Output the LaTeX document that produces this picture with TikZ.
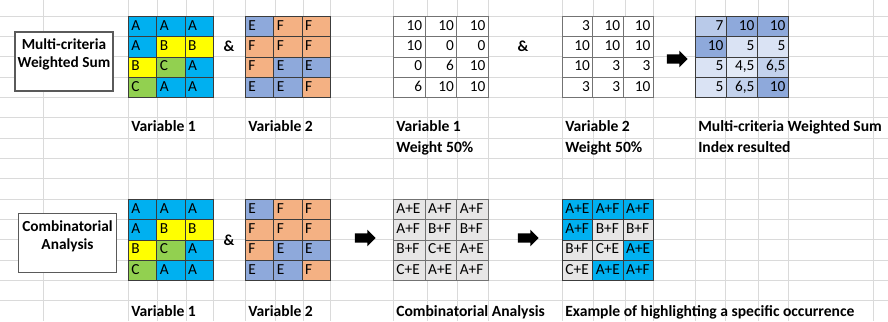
\documentclass[tikz,border=0pt]{standalone}
\usepackage{fontspec}
\setmainfont{Carlito}
\usetikzlibrary{shapes.arrows}

\definecolor{sheetgrid}{RGB}{218,218,218}
\definecolor{celledge}{RGB}{60,60,60}
\definecolor{numedge}{RGB}{115,115,115}
\definecolor{boxedge}{RGB}{90,90,90}
\definecolor{colA}{RGB}{0,176,240}
\definecolor{colB}{RGB}{255,255,0}
\definecolor{colC}{RGB}{146,208,80}
\definecolor{colE}{RGB}{142,169,219}
\definecolor{colF}{RGB}{244,177,131}
\definecolor{combhi}{RGB}{0,176,240}
\definecolor{comblo}{RGB}{231,230,230}
\definecolor{wsdark}{RGB}{142,169,219}
\definecolor{wslight}{RGB}{228,235,247}

\begin{document}
\begin{tikzpicture}[
  x=0.75pt, y=-0.75pt,
  every node/.style={font=\fontsize{11.5}{13.5}\selectfont},
  gridline/.style={draw=sheetgrid, line width=0.5pt},
  cell/.style={rectangle, draw=celledge, line width=0.7pt, anchor=north west,
    minimum height=15.25pt, inner xsep=2.25pt, inner ysep=0pt,
    text height=7.5pt, text depth=2pt},
  cellw/.style={minimum width=#1, text width=#1-4.5pt},
  lettercell/.style={cell, cellw=21.25pt, align=left},
  numcell/.style={cell, draw=numedge, align=right},
  combcell/.style={cell, draw=numedge, align=left},
  caption/.style={anchor=base west, inner xsep=2.25pt,
    font=\fontsize{11.7}{13.5}\selectfont\bfseries},
  labelbox/.style={rectangle, draw=boxedge, line width=0.9pt, fill=white,
    minimum width=73.5pt, minimum height=44.25pt},
  boxtext/.style={align=center, font=\fontsize{11.5}{13.5}\selectfont\bfseries},
  amp/.style={font=\fontsize{11.5}{13.5}\selectfont\bfseries},
  bigarrow/.style={single arrow, fill=black, draw=none, inner sep=3.2pt,
    single arrow head extend=2.8pt, minimum height=15.5pt}
]
  \useasboundingbox (0,0) rectangle (888,321);

  % sheet grid
  \foreach \gx in {43,128,157,186,213,245,275,303,330,393,427,457,488,
                   562,593,625,653,695,725,758,788,873}
    \draw[gridline] (\gx,0) -- (\gx,321);
  \foreach \k in {0,...,14}
    \draw[gridline] (0,16+20.33*\k) -- (888,16+20.33*\k);

  % row 1: multi-criteria weighted sum
  \node[labelbox] (mcws) at (64,61.5) {};
  \node[boxtext, yshift=5pt] (mcws-txt) at (mcws.center) {Multi-criteria\\Weighted Sum};

  \foreach \v [count=\i from 0] in {A,A,A,A,B,B,B,C,A,C,A,A}{
    \pgfmathtruncatemacro\cx{mod(\i,3)}
    \pgfmathtruncatemacro\ry{\i/3}
    \node[lettercell, fill=col\v] (va-\i) at ({128+85/3*\cx},{16+20.33*\ry}) {\v};
  }
  \node[amp] (amp-1) at (229,46.5) {\&};
  \foreach \v [count=\i from 0] in {E,F,F,F,F,F,F,E,E,E,E,F}{
    \pgfmathtruncatemacro\cx{mod(\i,3)}
    \pgfmathtruncatemacro\ry{\i/3}
    \node[lettercell, fill=col\v] (vb-\i) at ({245+85/3*\cx},{16+20.33*\ry}) {\v};
  }

  \foreach \v [count=\i from 0] in {10,10,10,10,0,0,0,6,10,6,10,10}{
    \pgfmathtruncatemacro\cx{mod(\i,3)}
    \pgfmathtruncatemacro\ry{\i/3}
    \node[numcell, cellw=23.75pt, fill=white] (na-\i) at ({393+95/3*\cx},{16+20.33*\ry}) {\v};
  }
  \node[amp] (amp-2) at (523,46.5) {\&};
  \foreach \v [count=\i from 0] in {3,10,10,10,10,10,10,3,3,3,3,10}{
    \pgfmathtruncatemacro\cx{mod(\i,3)}
    \pgfmathtruncatemacro\ry{\i/3}
    \node[numcell, cellw=22.75pt, fill=white] (nb-\i) at ({562+91/3*\cx},{16+20.33*\ry}) {\v};
  }

  \node[bigarrow] (arr-ws) at (675,59) {};
  \foreach \v/\s [count=\i from 0] in {7/50,10/100,10/100,10/100,5/12,5/12,
                                       5/12,{4,5}/0,{6,5}/38,5/12,{6,5}/38,10/100}{
    \pgfmathtruncatemacro\cx{mod(\i,3)}
    \pgfmathtruncatemacro\ry{\i/3}
    \node[numcell, draw=celledge, cellw=23.25pt, fill=wsdark!\s!wslight] (ws-\i)
      at ({695+31*\cx},{16+20.33*\ry}) {\v};
  }

  \node[caption] (cap-va) at (128,131.5) {Variable 1};
  \node[caption] (cap-vb) at (245,131.5) {Variable 2};
  \node[caption] (cap-na) at (393,131.5) {Variable 1};
  \node[caption] (cap-naw) at (393,152.5) {Weight 50\%};
  \node[caption] (cap-nb) at (562,131.5) {Variable 2};
  \node[caption] (cap-nbw) at (562,152.5) {Weight 50\%};
  \node[caption] (cap-ws) at (695,131.5) {Multi-criteria Weighted Sum};
  \node[caption] (cap-wsi) at (695,152.5) {Index resulted};

  % row 2: combinatorial analysis
  \node[labelbox] (comb) at (67.5,243) {};
  \node[boxtext, yshift=5pt] (comb-txt) at (comb.center) {Combinatorial\\Analysis};

  \foreach \v [count=\i from 0] in {A,A,A,A,B,B,B,C,A,C,A,A}{
    \pgfmathtruncatemacro\cx{mod(\i,3)}
    \pgfmathtruncatemacro\ry{\i/3+9}
    \node[lettercell, fill=col\v] (ca-\i) at ({128+85/3*\cx},{16+20.33*\ry}) {\v};
  }
  \node[amp] (amp-3) at (229,240) {\&};
  \foreach \v [count=\i from 0] in {E,F,F,F,F,F,F,E,E,E,E,F}{
    \pgfmathtruncatemacro\cx{mod(\i,3)}
    \pgfmathtruncatemacro\ry{\i/3+9}
    \node[lettercell, fill=col\v] (cb-\i) at ({245+85/3*\cx},{16+20.33*\ry}) {\v};
  }

  \node[bigarrow] (arr-co) at (363,238) {};
  \foreach \v [count=\i from 0] in {A+E,A+F,A+F,A+F,B+F,B+F,B+F,C+E,A+E,C+E,A+E,A+F}{
    \pgfmathtruncatemacro\cx{mod(\i,3)}
    \pgfmathtruncatemacro\ry{\i/3+9}
    \node[combcell, cellw=23.75pt, fill=comblo] (co-\i) at ({393+95/3*\cx},{16+20.33*\ry}) {\v};
  }

  \node[bigarrow] (arr-hl) at (526,238) {};
  \foreach \v/\h [count=\i from 0] in {A+E/hi,A+F/hi,A+F/hi,A+F/hi,B+F/lo,B+F/lo,
                                       B+F/lo,C+E/lo,A+E/hi,C+E/lo,A+E/hi,A+F/hi}{
    \pgfmathtruncatemacro\cx{mod(\i,3)}
    \pgfmathtruncatemacro\ry{\i/3+9}
    \node[combcell, draw=celledge, cellw=22.75pt, fill=comb\h] (hl-\i)
      at ({562+91/3*\cx},{16+20.33*\ry}) {\v};
  }

  \node[caption] (cap-ca) at (128,316) {Variable 1};
  \node[caption] (cap-cb) at (245,316) {Variable 2};
  \node[caption] (cap-co) at (393,316) {Combinatorial Analysis};
  \node[caption] (cap-hl) at (562,316) {Example of highlighting a specific occurrence};
\end{tikzpicture}
\end{document}
